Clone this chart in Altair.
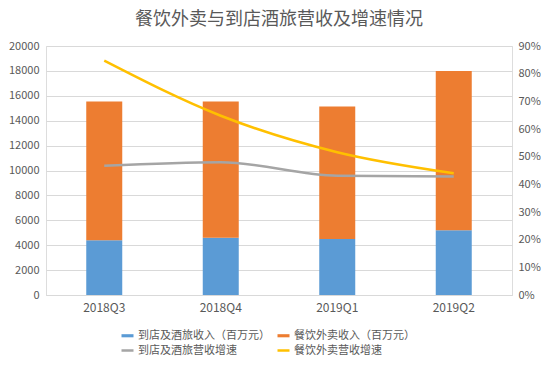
import altair as alt
import pandas as pd

quarters = ["2018Q3", "2018Q4", "2019Q1", "2019Q2"]
dine_rev = [4400, 4600, 4500, 5200]
food_rev = [11150, 10950, 10650, 12800]
dine_growth = [0.467, 0.48, 0.431, 0.428]
food_growth = [0.847, 0.648, 0.516, 0.44]

series = ["到店及酒旅收入（百万元）", "餐饮外卖收入（百万元）", "到店及酒旅营收增速", "餐饮外卖营收增速"]
colors = ["#5B9BD5", "#ED7D31", "#A5A5A5", "#FFC000"]

bars_df = pd.DataFrame({
    "quarter": quarters * 2,
    "series": [series[0]] * 4 + [series[1]] * 4,
    "value": dine_rev + food_rev,
    "ord": [0] * 4 + [1] * 4,
})
lines_df = pd.DataFrame({
    "quarter": quarters * 2,
    "series": [series[2]] * 4 + [series[3]] * 4,
    "rate": dine_growth + food_growth,
})

FONT = "Noto Sans CJK SC"
TXT = "#595959"

is_bar = "(datum.value == '%s' || datum.value == '%s')" % (series[0], series[1])

legend = alt.Legend(
    title=None, orient="none", legendX=76, legendY=284, columns=2, direction="horizontal",
    labelFont=FONT, labelFontSize=11, labelColor=TXT, labelLimit=300, labelOffset=5,
    symbolSize=576, columnPadding=2, rowPadding=3,
    symbolType=alt.ExprRef(expr=is_bar + " ? 'M-0.5,-0.13H0.5V0.13H-0.5Z' : 'M-0.5,0H0.5'"),
    symbolFillColor=alt.ExprRef(expr=is_bar + " ? scale('color', datum.value) : 'transparent'"),
    symbolStrokeColor=alt.ExprRef(expr="scale('color', datum.value)"),
    symbolStrokeWidth=alt.ExprRef(expr=is_bar + " ? 0 : 2.5"),
    symbolOpacity=1,
)

color = alt.Color("series:N", scale=alt.Scale(domain=series, range=colors), legend=legend)

x = alt.X("quarter:N", sort=quarters, title=None,
          scale=alt.Scale(paddingInner=0, paddingOuter=0),
          axis=alt.Axis(labelAngle=0, ticks=False, domainColor="#D9D9D9",
                        labelFont=FONT, labelFontSize=12, labelColor=TXT, labelPadding=7))

bars = alt.Chart(bars_df).mark_bar(size=36).encode(
    x=x,
    y=alt.Y("value:Q", stack="zero", title=None,
            scale=alt.Scale(domain=[0, 20000], nice=False),
            axis=alt.Axis(values=list(range(0, 20001, 2000)), format="d", ticks=False, domain=False,
                          gridColor="#D9D9D9", labelFont=FONT, labelFontSize=11,
                          labelColor=TXT, labelPadding=7)),
    color=color,
    order=alt.Order("ord:Q"),
)

lines = alt.Chart(lines_df).mark_line(strokeWidth=2.5, interpolate="monotone").encode(
    x=x,
    y=alt.Y("rate:Q", title=None,
            scale=alt.Scale(domain=[0, 0.9], nice=False),
            axis=alt.Axis(orient="right", values=[i / 10 for i in range(10)], format=".0%",
                          ticks=False, domain=False, grid=False, labelFont=FONT,
                          labelFontSize=11, labelColor=TXT, labelPadding=6)),
    color=color,
)

chart = alt.layer(bars, lines).resolve_scale(y="independent").properties(
    width=466, height=249,
    title=alt.Title("餐饮外卖与到店酒旅营收及增速情况", font=FONT, fontSize=18,
                    fontWeight="normal", color=TXT, anchor="middle", offset=11),
).configure_view(stroke=None).configure(padding={"left": 0, "top": 3, "right": 0, "bottom": 0})

chart.save("out.html", embed_options={"renderer": "svg", "actions": False})
